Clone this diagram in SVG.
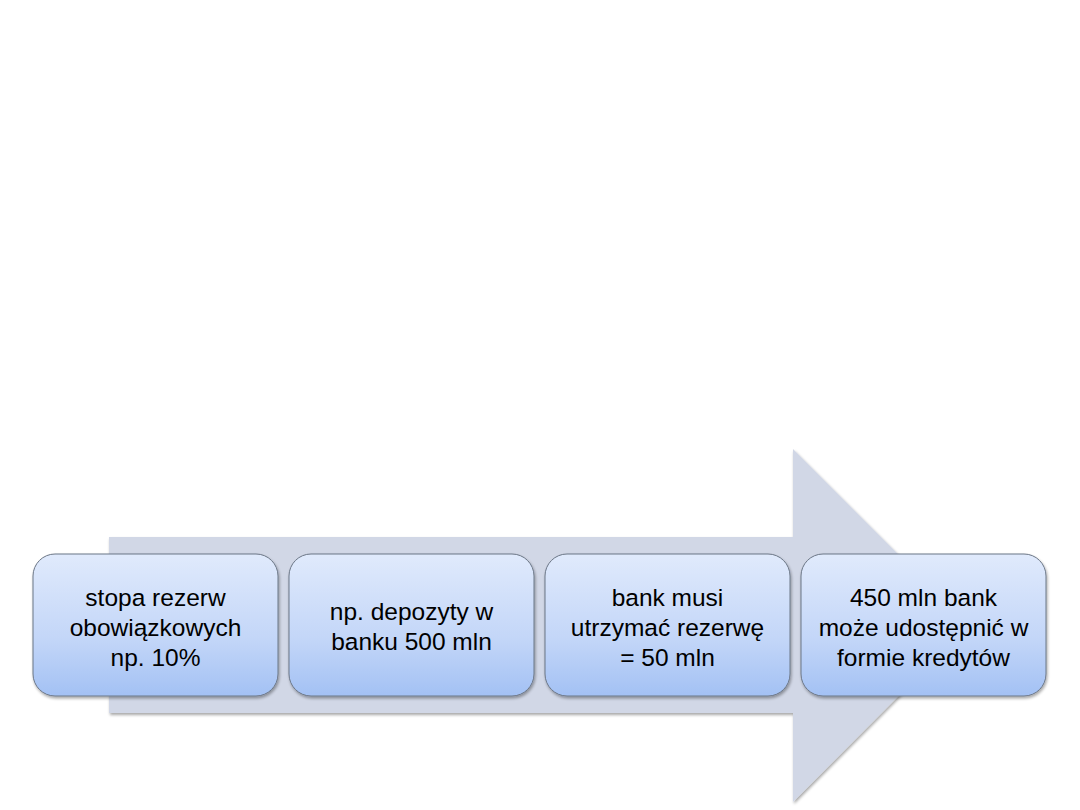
<svg xmlns="http://www.w3.org/2000/svg" width="1080" height="810" viewBox="0 0 1080 810">
<defs>
<linearGradient id="g" x1="0" y1="0" x2="0" y2="1">
<stop offset="0" stop-color="#e0eafc"/>
<stop offset="0.6" stop-color="#c3d6f8"/>
<stop offset="1" stop-color="#a3c1f4"/>
</linearGradient>
<filter id="sh" x="-10%" y="-10%" width="130%" height="130%">
<feGaussianBlur in="SourceAlpha" stdDeviation="1.5"/>
<feOffset dx="1" dy="2" result="b"/>
<feComponentTransfer><feFuncA type="linear" slope="0.35"/></feComponentTransfer>
<feMerge><feMergeNode/><feMergeNode in="SourceGraphic"/></feMerge>
</filter>
</defs>
<style>
.box{fill:url(#g);stroke:#6b7686;stroke-width:1}
.t{font-family:"Liberation Sans",Arial,sans-serif;font-size:24.5px;fill:#000;text-anchor:middle}
</style>
<rect width="1080" height="810" fill="#fff"/>
<g id="connectors">
<path d="M109,537 L793,537 L793,449 L969,625 L793,802 L793,713 L109,713 Z" fill="#d1d7e6" filter="url(#sh)"/>
</g>
<g id="n1">
<rect class="box" x="33" y="554" width="245" height="142" rx="22" filter="url(#sh)"/>
<text class="t" x="155.5" y="606">stopa rezerw</text>
<text class="t" x="155.5" y="636">obowiązkowych</text>
<text class="t" x="155.5" y="666">np. 10%</text>
</g>
<g id="n2">
<rect class="box" x="289" y="554" width="245" height="142" rx="22" filter="url(#sh)"/>
<text class="t" x="411.5" y="620">np. depozyty w</text>
<text class="t" x="411.5" y="650">banku 500 mln</text>
</g>
<g id="n3">
<rect class="box" x="545" y="554" width="245" height="142" rx="22" filter="url(#sh)"/>
<text class="t" x="667.5" y="606">bank musi</text>
<text class="t" x="667.5" y="636">utrzymać rezerwę</text>
<text class="t" x="667.5" y="666">= 50 mln</text>
</g>
<g id="n4">
<rect class="box" x="801" y="554" width="245" height="142" rx="22" filter="url(#sh)"/>
<text class="t" x="923.5" y="606">450 mln bank</text>
<text class="t" x="923.5" y="636">może udostępnić w</text>
<text class="t" x="923.5" y="666">formie kredytów</text>
</g>
</svg>
